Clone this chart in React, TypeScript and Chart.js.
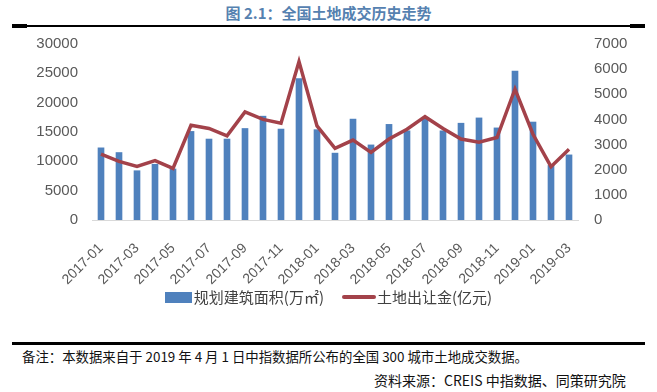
import React, { useEffect, useRef } from 'react';
import { Chart, registerables } from 'chart.js';

Chart.register(...registerables);

const months = [
  '2017-01', '2017-02', '2017-03', '2017-04', '2017-05', '2017-06', '2017-07', '2017-08', '2017-09',
  '2017-10', '2017-11', '2017-12', '2018-01', '2018-02', '2018-03', '2018-04', '2018-05', '2018-06',
  '2018-07', '2018-08', '2018-09', '2018-10', '2018-11', '2018-12', '2019-01', '2019-02', '2019-03',
];

// 规划建筑面积(万㎡)
const areaValues = [
  12300, 11500, 8400, 9500, 8700, 15100, 13800, 13800, 15600,
  17700, 15500, 24100, 15400, 11400, 17200, 12800, 16300, 15200,
  17400, 15200, 16500, 17400, 15700, 25400, 16700, 9300, 11100,
];

// 土地出让金(亿元)
const revenueValues = [
  2620, 2330, 2130, 2360, 2050, 3770, 3640, 3350, 4300,
  4000, 3850, 6300, 3740, 2850, 3180, 2690, 3220, 3610,
  4110, 3640, 3220, 3090, 3280, 5210, 3410, 2120, 2810,
];

const areaLabel = '规划建筑面积(万㎡)';
const revenueLabel = '土地出让金(亿元)';
const titleText = '图 2.1：全国土地成交历史走势';
const noteText = '备注：本数据来自于 2019 年 4 月 1 日中指数据所公布的全国 300 城市土地成交数据。';
const sourceText = '资料来源：CREIS 中指数据、同策研究院';

const BAR_COLOR = '#4f81bd';
const LINE_COLOR = '#a3424a';
const TICK_COLOR = '#595959';
const NUM_FONT = '"Liberation Sans", Arial, sans-serif';
const CJK_FONT = '"Noto Sans CJK SC", "Liberation Sans", sans-serif';

export default function App() {
  const canvasRef = useRef<HTMLCanvasElement | null>(null);

  useEffect(() => {
    if (!canvasRef.current) return;
    const chart = new Chart(canvasRef.current, {
      type: 'bar',
      data: {
        labels: months,
        datasets: [
          {
            type: 'line',
            label: revenueLabel,
            data: revenueValues,
            yAxisID: 'y1',
            borderColor: LINE_COLOR,
            backgroundColor: LINE_COLOR,
            borderWidth: 3.5,
            pointRadius: 0,
            tension: 0,
            order: 0,
          },
          {
            type: 'bar',
            label: areaLabel,
            data: areaValues,
            yAxisID: 'y',
            backgroundColor: BAR_COLOR,
            barThickness: 6,
            order: 1,
          },
        ],
      },
      options: {
        responsive: false,
        animation: false,
        layout: { padding: { top: 10, left: 0, right: 0, bottom: 0 } },
        plugins: {
          legend: { display: false },
          tooltip: { enabled: false },
          title: { display: false },
        },
        scales: {
          x: {
            grid: { display: false, drawTicks: false },
            border: { display: true, color: '#d9d9d9', width: 1 },
            ticks: {
              autoSkip: false,
              minRotation: 45,
              maxRotation: 45,
              padding: 20,
              color: TICK_COLOR,
              font: { family: NUM_FONT, size: 14 },
              callback: (_v: any, i: number) => (i % 2 === 0 ? months[i] : ''),
            },
            afterFit: (s: any) => {
              s.height = 70;
            },
          },
          y: {
            position: 'left',
            min: 0,
            max: 30000,
            grid: { display: false, drawTicks: false },
            border: { display: false },
            ticks: {
              stepSize: 5000,
              padding: 14,
              color: TICK_COLOR,
              font: { family: NUM_FONT, size: 15 },
              callback: (v: any) => String(v),
            },
            afterFit: (s: any) => {
              s.width = 92;
            },
          },
          y1: {
            position: 'right',
            min: 0,
            max: 7000,
            grid: { display: false, drawTicks: false },
            border: { display: false },
            ticks: {
              stepSize: 1000,
              padding: 16,
              color: TICK_COLOR,
              font: { family: NUM_FONT, size: 15 },
              callback: (v: any) => String(v),
            },
            afterFit: (s: any) => {
              s.width = 79;
            },
          },
        },
      },
    } as any);
    return () => chart.destroy();
  }, []);

  return (
    <div
      style={{
        position: 'fixed',
        left: 0,
        top: 0,
        width: 657,
        height: 392,
        background: '#ffffff',
        overflow: 'hidden',
        fontFamily: CJK_FONT,
      }}
    >
      <div
        style={{
          position: 'absolute',
          left: 0,
          top: 3,
          width: 657,
          textAlign: 'center',
          fontSize: 15,
          fontWeight: 'bold',
          color: '#5581b0',
          lineHeight: '20px',
        }}
      >
        {titleText}
      </div>
      <div style={{ position: 'absolute', left: 12, top: 25, width: 633, height: 2, background: '#000' }} />
      <div style={{ position: 'absolute', left: 12, top: 24, width: 15, height: 4, background: '#000' }} />
      <div style={{ position: 'absolute', left: 630, top: 24, width: 15, height: 4, background: '#000' }} />

      <canvas
        ref={canvasRef}
        width={657}
        height={271}
        style={{ position: 'absolute', left: 0, top: 19, width: 657, height: 271 }}
      />

      <div
        style={{
          position: 'absolute',
          left: 0,
          top: 286,
          width: 657,
          height: 22,
          display: 'flex',
          alignItems: 'center',
          justifyContent: 'center',
          fontSize: 15,
          color: '#404040',
          lineHeight: '22px',
        }}
      >
        <span style={{ display: 'inline-block', width: 27, height: 11, background: BAR_COLOR, marginRight: 2 }} />
        <span>{areaLabel}</span>
        <span
          style={{
            display: 'inline-block',
            width: 34,
            height: 4,
            borderRadius: 2,
            background: LINE_COLOR,
            marginLeft: 18,
            marginRight: 1,
          }}
        />
        <span>{revenueLabel}</span>
      </div>

      <div style={{ position: 'absolute', left: 12, top: 342, width: 633, height: 3, background: '#000' }} />
      <div
        style={{
          position: 'absolute',
          left: 22,
          top: 346,
          fontSize: 13.4,
          color: '#111',
          lineHeight: '20px',
          whiteSpace: 'nowrap',
        }}
      >
        {noteText}
      </div>
      <div
        style={{
          position: 'absolute',
          left: 374,
          top: 370,
          fontSize: 14,
          color: '#111',
          lineHeight: '20px',
          whiteSpace: 'nowrap',
        }}
      >
        {sourceText}
      </div>
    </div>
  );
}
